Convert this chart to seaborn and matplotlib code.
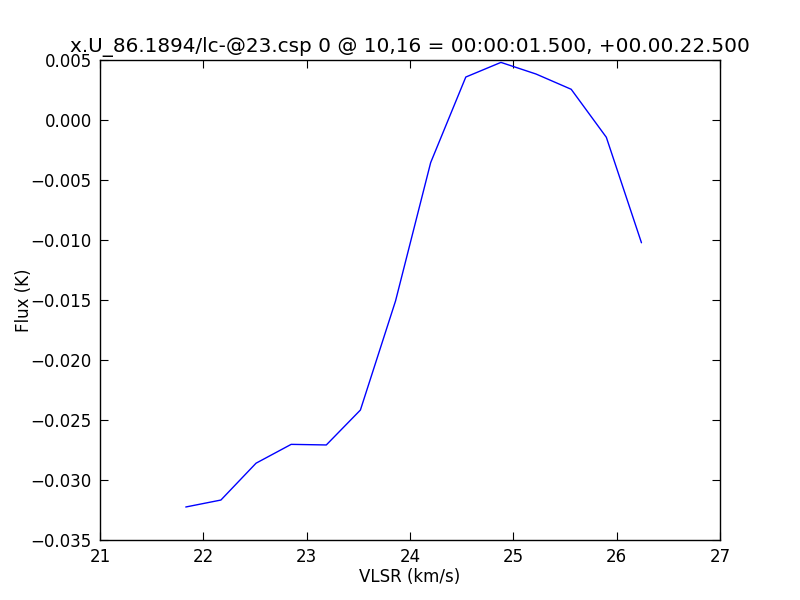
import matplotlib
matplotlib.use("Agg")
import matplotlib.pyplot as plt
import seaborn as sns
import pandas as pd

sns.set_style("ticks")
plt.rcParams['font.family'] = ['DejaVu Sans']
plt.rcParams['text.color'] = 'black'
plt.rcParams['axes.labelcolor'] = 'black'

# spectrum
vlsr = [21.83, 22.17, 22.51, 22.85, 23.19, 23.52, 23.86, 24.20,
        24.54, 24.88, 25.22, 25.56, 25.90, 26.24]
flux = [-0.03225, -0.03167, -0.02860, -0.02703, -0.02708, -0.02417, -0.01508, -0.00355,
        0.00358, 0.00480, 0.00383, 0.00256, -0.00144, -0.01023]

title = "x.U_86.1894/lc-@23.csp 0 @ 10,16 = 00:00:01.500, +00.00.22.500"

df = pd.DataFrame({"vlsr": vlsr, "flux": flux})

fig = plt.figure(figsize=(8, 6), dpi=100)
ax = fig.add_axes([0.125, 0.1, 0.775, 0.8])
sns.lineplot(x="vlsr", y="flux", data=df, ax=ax, color="#0000ff", linewidth=1.0)

ax.set_xlim(21, 27)
ax.set_ylim(-0.035, 0.005)
ax.set_xticks([21, 22, 23, 24, 25, 26, 27])
ax.set_yticks([-0.035, -0.030, -0.025, -0.020, -0.015, -0.010, -0.005, 0.000, 0.005])
ax.set_yticklabels(["\u22120.035", "\u22120.030", "\u22120.025", "\u22120.020", "\u22120.015",
                    "\u22120.010", "\u22120.005", "0.000", "0.005"])
ax.tick_params(direction="in", top=True, right=True, length=6, width=0.8,
               labelsize=12, colors="black", pad=6)
for s in ax.spines.values():
    s.set_color("black")
    s.set_linewidth(1.0)

ax.set_xlabel("VLSR (km/s)", fontsize=12, color="black", labelpad=1)
ax.set_ylabel("Flux (K)", fontsize=12, color="black", labelpad=-2)
ax.set_title(title, fontsize=14.4, color="black")

fig.savefig("out.png", dpi=100)
plt.close(fig)
